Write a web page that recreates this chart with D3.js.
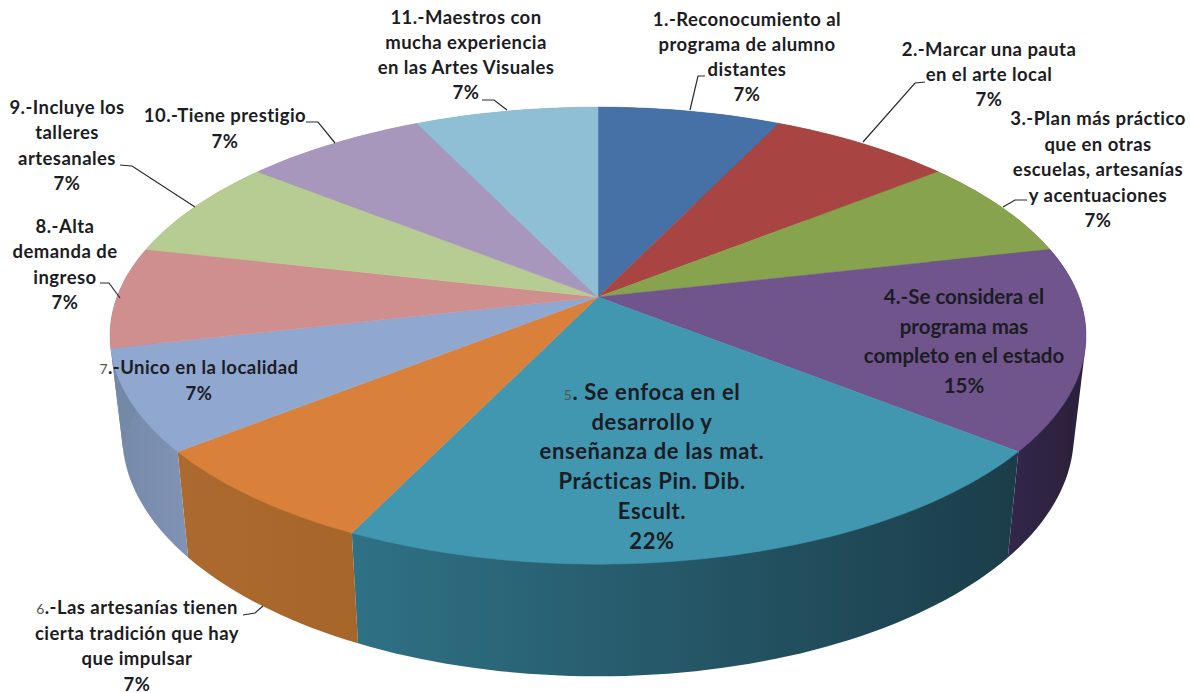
<!DOCTYPE html>
<html>
<head>
<meta charset="utf-8">
<script src="https://cdn.jsdelivr.net/npm/d3@7"></script>
<style>
  html, body { margin: 0; padding: 0; background: #fff; }
  text { font-family: Lato, "Open Sans", sans-serif; font-weight: 700; fill: #1c1c24; text-anchor: middle; }
  .small { font-weight: 400; fill: #555; font-size: 14px; }
</style>
</head>
<body>
<div id="chart"></div>
<script>
// responses per option, the percent labels are the ones printed on the chart
const categories = [
  ["1.-Reconocumiento al", "programa de alumno", "distantes"],
  ["2.-Marcar una pauta", "en el arte local"],
  ["3.-Plan más práctico", "que en otras", "escuelas, artesanías", "y acentuaciones"],
  ["4.-Se considera el", "programa mas", "completo en el estado"],
  ["5|. Se enfoca en el", "desarrollo y", "enseñanza de las mat.", "Prácticas  Pin. Dib.", "Escult."],
  ["6|.-Las artesanías tienen", "cierta tradición que hay", "que impulsar"],
  ["7|.-Unico en la localidad"],
  ["8.-Alta", "demanda de", "ingreso"],
  ["9.-Incluye los", "talleres", "artesanales"],
  ["10.-Tiene prestigio"],
  ["11.-Maestros con", "mucha experiencia", "en las Artes Visuales"]
];
const values = [1, 1, 1, 2, 3, 1, 1, 1, 1, 1, 1];
const percents = ["7%", "7%", "7%", "15%", "22%", "7%", "7%", "7%", "7%", "7%", "7%"];

const topColors = ["#4671a6", "#a84543", "#87a34e", "#70548c", "#4197b0", "#d9813b",
                   "#90a8d0", "#cf8f8e", "#b7cc92", "#a897bc", "#8fbfd5"];
// slice 8 only shows as a sliver at the left edge, the reference has it in the blue of slice 7
const sideLeft  = ["#3a5c85", "#863736", "#6c823e", "#33264a", "#2f7186", "#ad6a30",
                   "#7488a8", "#7488a8", "#92a374", "#867996", "#7299aa"];
const sideRight = ["#3a5c85", "#863736", "#6c823e", "#2b203a", "#1b3d49", "#a66529",
                   "#8093b5", "#7488a8", "#92a374", "#867996", "#7299aa"];

// label placement: centre x, y of first line, line step, font size, letter spacing
const labelPos = [
  [747, 26, 25, 18.5, 0.45], [989, 56, 25, 18.5, 0.45], [1098, 125, 25.5, 18.5, 0.45], [964, 304, 29.5, 20.5, 0],
  [652, 400, 29.7, 22, 0.6], [137, 614, 25.5, 18.5, 0.45], [199, 374, 26, 18.5, 0.45], [65, 233, 25.3, 18.5, 0.45],
  [67, 114, 25.3, 18.5, 0.45], [225, 122, 26, 18.5, 0.45], [466, 24, 25, 18.5, 0.45]
];
const leaders = [
  [[690, 110], [698, 76], [705, 76]],
  [[863, 142], [915, 83], [925, 82]],
  [[1003, 207], [1015, 200], [1027, 200]],
  null, null,
  [[243, 615], [255, 613], [263, 606]],
  null,
  [[120, 298], [109, 283], [100, 283]],
  [[195, 207], [132, 166], [120, 165]],
  [[335, 143], [318, 122], [306, 122]],
  [[507, 110], [494, 100], [482, 100]]
];

const width = 1190, height = 693;
const cx = 598, persp = 0.169;
const topFace = { y: 297, rx: 481, ry: 222 };
const botFace = { y: 394, rx: 469, ry: 234.6 };

// perspective projection of a point on the rim, angle 0 is straight up
function rim(face, a) {
  const u = Math.sin(a), v = -Math.cos(a), s = 1 / (1 - persp * v);
  return [cx + face.rx * u * s, face.y + face.ry * v * s];
}
function arcPoints(face, a0, a1) {
  const n = Math.max(2, Math.ceil((a1 - a0) * 40));
  return d3.range(n + 1).map(i => rim(face, a0 + (a1 - a0) * i / n));
}

const svg = d3.select("#chart").append("svg")
  .attr("width", width).attr("height", height)
  .style("display", "block");
const defs = svg.append("defs");
const line = d3.line();

const slices = d3.pie().sort(null).value(d => d)(values);

slices.forEach((d, i) => {
  const g = defs.append("linearGradient").attr("id", "side" + i);
  g.append("stop").attr("offset", 0).attr("stop-color", sideLeft[i]);
  g.append("stop").attr("offset", 1).attr("stop-color", sideRight[i]);
});

// outer wall first, the top face covers whatever sits behind it
// hull so the wall also fills the wedge at the left and right silhouette
svg.append("g").selectAll("path")
  .data(slices)
  .join("path")
  .attr("d", d => line(d3.polygonHull(arcPoints(topFace, d.startAngle, d.endAngle)
      .concat(arcPoints(botFace, d.startAngle, d.endAngle)))) + "Z")
  .attr("fill", (d, i) => `url(#side${i})`);

svg.append("g").selectAll("path")
  .data(slices)
  .join("path")
  .attr("d", d => line([[cx, topFace.y]].concat(arcPoints(topFace, d.startAngle, d.endAngle))) + "Z")
  .attr("fill", (d, i) => topColors[i])
  .attr("stroke", (d, i) => topColors[i])
  .attr("stroke-width", 0.5);

svg.append("g").selectAll("path")
  .data(leaders.filter(d => d))
  .join("path")
  .attr("d", line)
  .attr("fill", "none")
  .attr("stroke", "#2a2a2a")
  .attr("stroke-width", 1.2);

const labels = svg.append("g");
categories.forEach((lines, i) => {
  const [x, y, step, size, spacing] = labelPos[i];
  const t = labels.append("text").attr("x", x).attr("y", y)
    .attr("font-size", size).attr("letter-spacing", spacing);
  lines.concat(percents[i]).forEach((s, k) => {
    const span = t.append("tspan").attr("x", x).attr("y", y + k * step);
    const parts = s.split("|");
    if (parts.length > 1) {
      span.append("tspan").attr("class", "small").text(parts[0]);
      span.append("tspan").text(parts[1]);
    } else {
      span.text(s);
    }
  });
});
</script>
</body>
</html>
